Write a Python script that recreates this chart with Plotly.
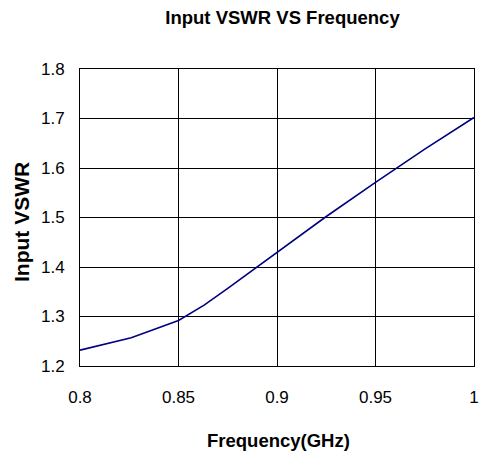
import plotly.graph_objects as go

freq = [0.8, 0.826, 0.85, 0.863, 0.875, 0.9, 0.925, 0.95, 0.975, 1.0]
vswr = [1.232, 1.257, 1.292, 1.323, 1.357, 1.429, 1.502, 1.571, 1.638, 1.702]

x_ticks = [0.8, 0.85, 0.9, 0.95, 1.0]
x_tick_labels = ["0.8", "0.85", "0.9", "0.95", "1"]
y_ticks = [1.2, 1.3, 1.4, 1.5, 1.6, 1.7, 1.8]
y_tick_labels = ["1.2", "1.3", "1.4", "1.5", "1.6", "1.7", "1.8"]

W, H = 484, 453
L, R, T, B = 80, 10, 69, 87
pw, ph = W - L - R, H - T - B

fig = go.Figure()
fig.add_trace(go.Scatter(x=freq, y=vswr, mode="lines",
                         line=dict(color="#000080", width=1.6), showlegend=False))

font_fam = "Liberation Sans, Arial, sans-serif"
fig.update_layout(
    width=W, height=H,
    margin=dict(l=L, r=R, t=T, b=B, autoexpand=False),
    paper_bgcolor="white", plot_bgcolor="white",
    font=dict(family=font_fam, color="black"),
    title=dict(text="<b>Input VSWR VS Frequency</b>", x=282.5 / W, xanchor="center",
               xref="container",
               y=1 - 18 / H, yanchor="middle", font=dict(size=18.5)),
)
fig.update_xaxes(range=[0.8, 1.0], tickvals=x_ticks, ticktext=x_tick_labels,
                 showgrid=True, gridcolor="black", gridwidth=1,
                 showline=True, linecolor="black", linewidth=1, mirror=True,
                 ticks="", tickfont=dict(size=17), zeroline=False,
                 ticklabelstandoff=16, ticklabeloverflow="allow", automargin=False)
fig.update_yaxes(range=[1.2, 1.8], tickvals=y_ticks, ticktext=y_tick_labels,
                 showgrid=True, gridcolor="black", gridwidth=1,
                 showline=True, linecolor="black", linewidth=1, mirror=True,
                 ticks="", tickfont=dict(size=17), zeroline=False,
                 ticklabelstandoff=11, ticklabeloverflow="allow", automargin=False)
fig.add_annotation(text="<b>Frequency(GHz)</b>", xref="paper", yref="paper",
                   x=(278 - L) / pw, y=-(440 - (T + ph)) / ph,
                   xanchor="center", yanchor="middle", showarrow=False,
                   font=dict(size=18.5))
fig.add_annotation(text="<b>Input VSWR</b>", xref="paper", yref="paper",
                   x=(21 - L) / pw, y=(T + ph - 222) / ph, textangle=-90,
                   xanchor="center", yanchor="middle", showarrow=False,
                   font=dict(size=21))
fig.write_html("out.html", config={"displayModeBar": False},
               post_script="document.body.style.margin='0';document.body.style.overflow='hidden';")
